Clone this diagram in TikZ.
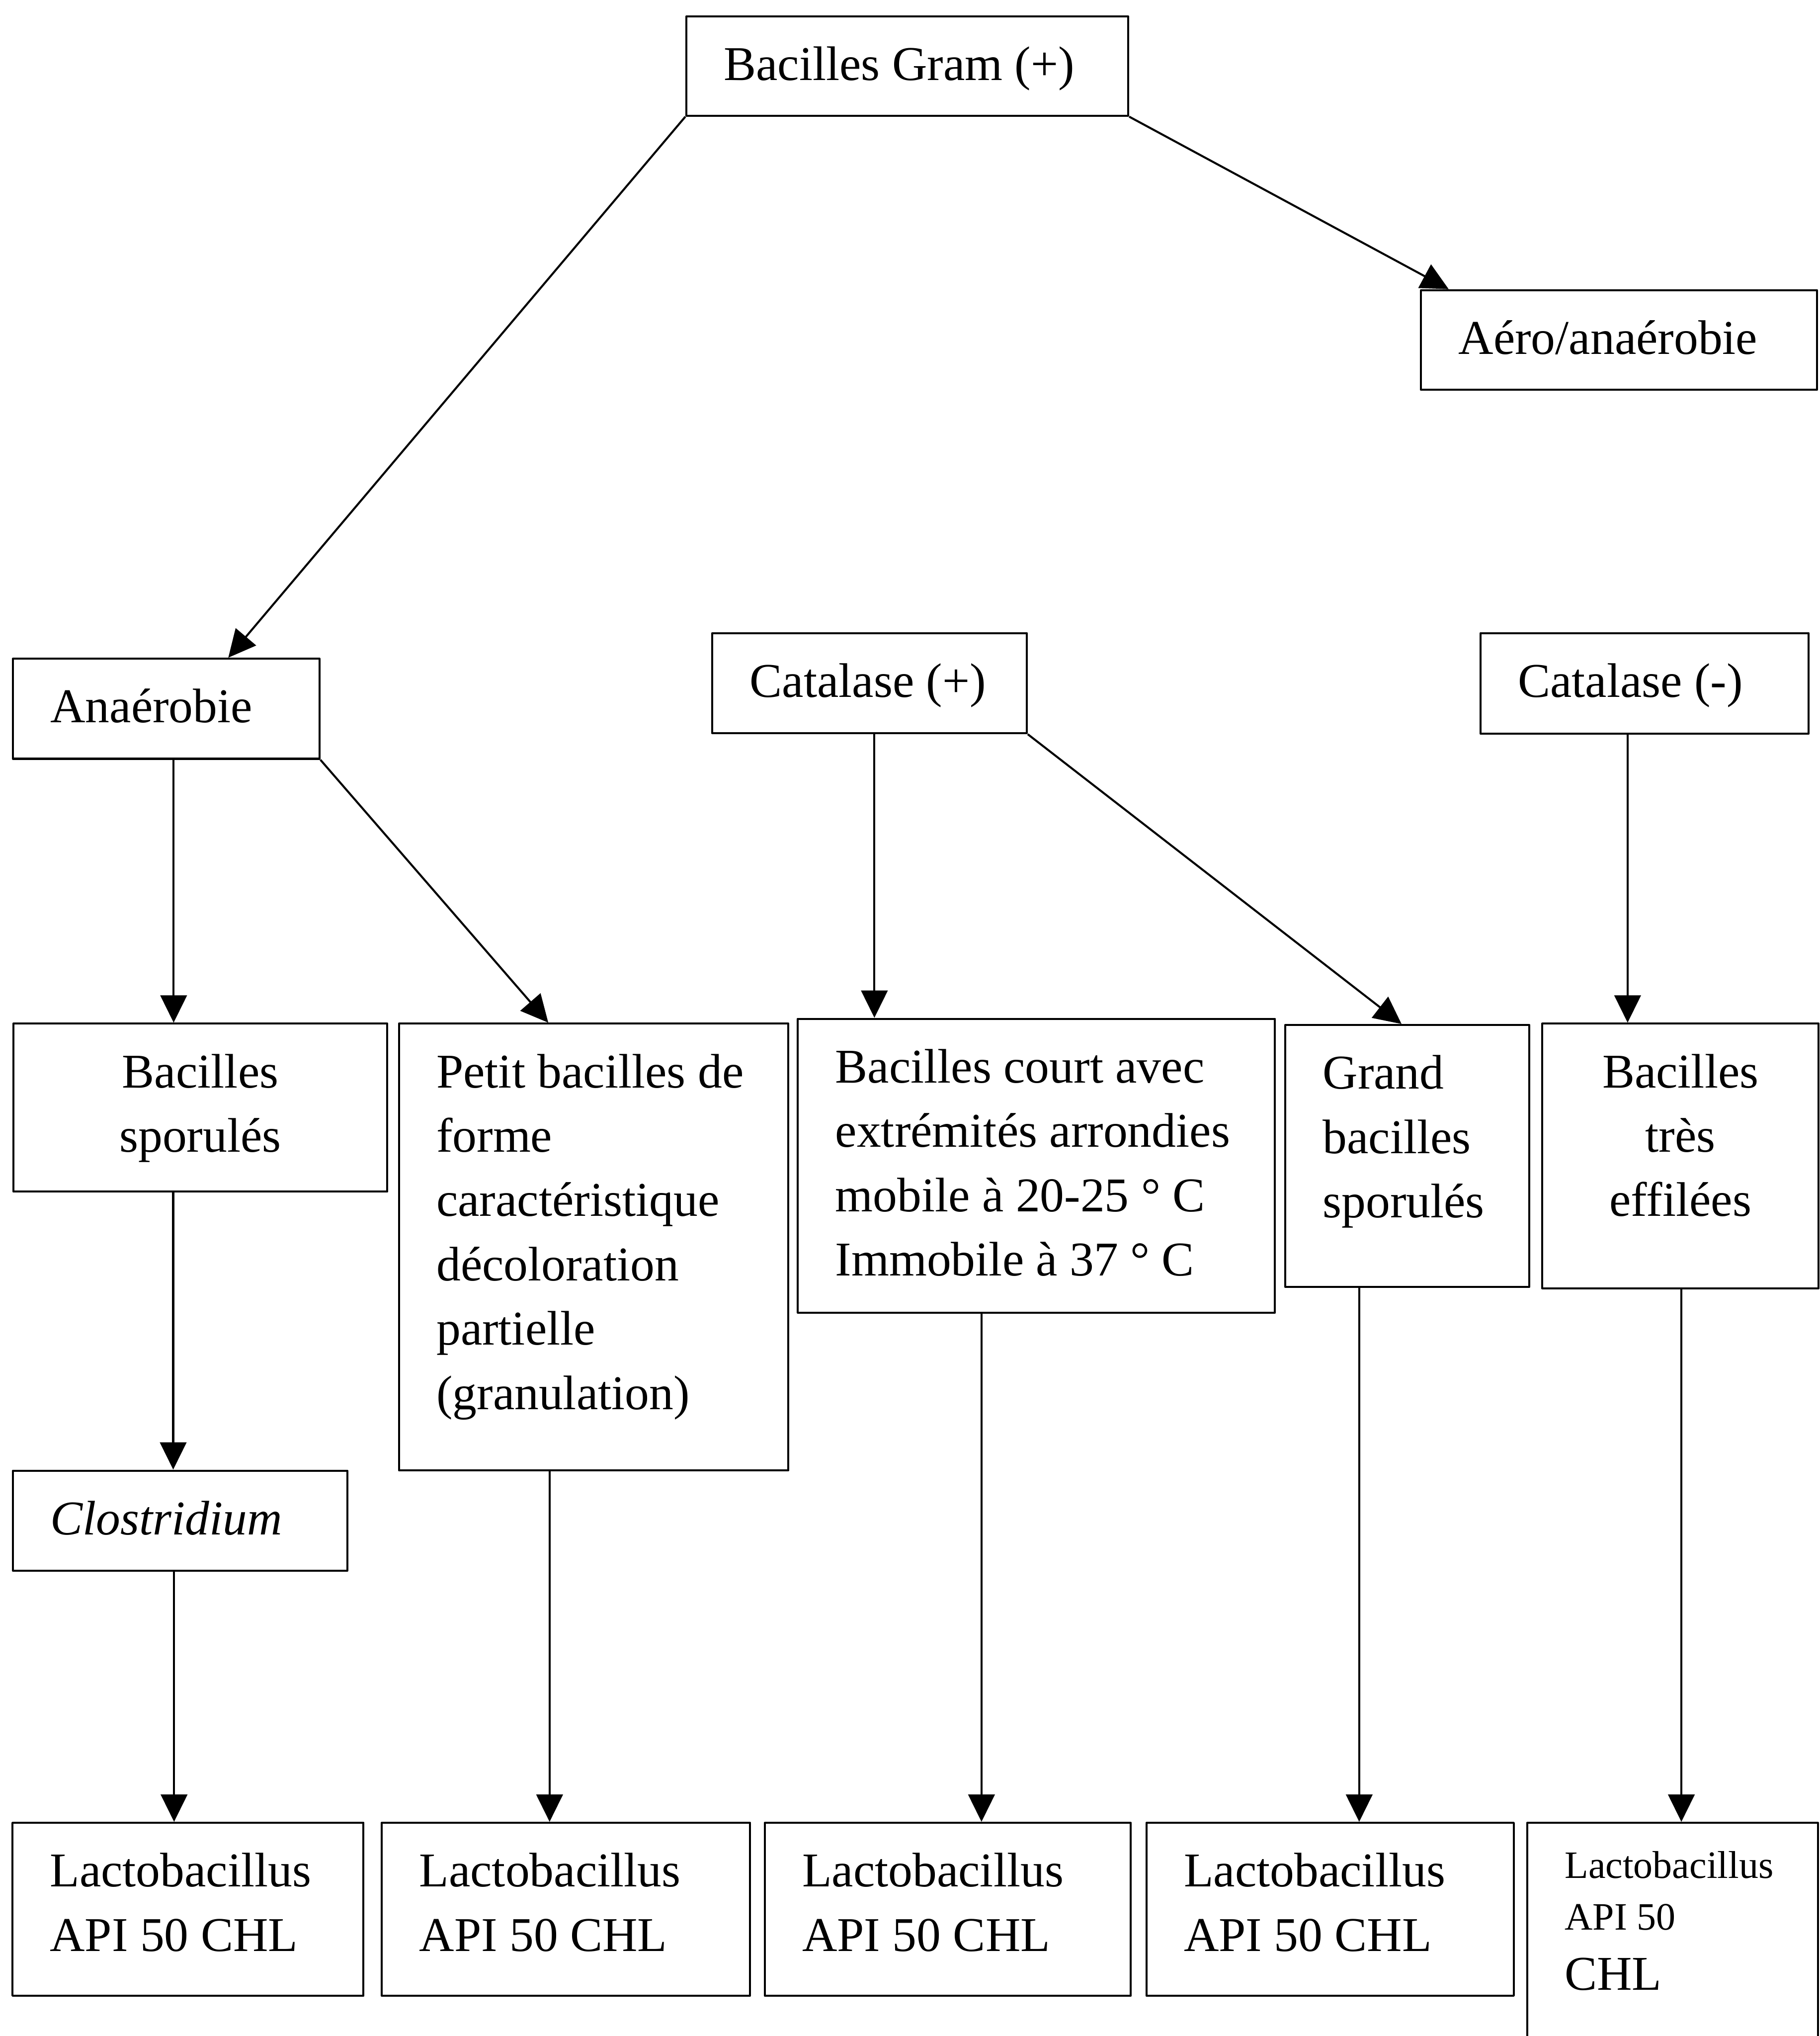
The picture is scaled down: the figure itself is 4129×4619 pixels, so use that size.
\documentclass[tikz,border=0pt]{standalone}
\usepackage{fontspec}
\setmainfont{Liberation Serif}
\usetikzlibrary{arrows.meta}
\begin{document}
\begin{tikzpicture}[x=0.01cm, y=-0.01cm, >={Triangle[length=0.62cm,width=0.6cm]}, line width=1.3pt, line join=round,
	font=\fontsize{31.3}{41.5}\selectfont,
	boite/.style={draw, anchor=north west, inner xsep=0.85cm, inner ysep=0pt, text height=1.45cm, align=flush left}]
	\useasboundingbox (0,0) rectangle (4129,4619);
	\clip (0,0) rectangle (4129,4619);
	% Haut
	\node[boite, text width=8.32cm, text depth=0.80cm] (gram) at (1555,35) {Bacilles Gram (+)};
	\node[boite, text width=7.28cm, text depth=0.81cm] (aero) at (3222,656) {Aéro/anaérobie};
	\node[boite, text width=5.25cm, text depth=0.82cm] (anaer) at (27,1492) {Anaérobie};
	\node[boite, text width=5.43cm, text depth=0.82cm] (catp) at (1614,1434) {Catalase (+)};
	\node[boite, text width=5.74cm, text depth=0.83cm] (catm) at (3357,1434) {Catalase (-)};
	% Formes
	\node[boite, text width=6.78cm, text depth=2.36cm, align=flush center] (spor) at (28,2320) {Bacilles\\sporulés};
	\node[boite, text width=7.13cm, text depth=8.68cm] (petit) at (903,2320) {Petit bacilles de\\forme\\caractéristique\\décoloration\\partielle\\(granulation)};
	\node[boite, text width=9.12cm, text depth=5.21cm] (court) at (1808,2309) {Bacilles court avec\\extrémités arrondies\\mobile à 20-25 ° C\\Immobile à 37 ° C};
	\node[boite, text width=3.83cm, text depth=4.49cm] (grand) at (2914,2323) {Grand\\bacilles\\sporulés};
	\node[boite, text width=4.57cm, text depth=4.55cm, align=flush center] (effil) at (3497,2320) {Bacilles\\très\\effilées};
	\node[boite, text width=5.88cm, text depth=0.82cm] (clos) at (27,3334) {\textit{Clostridium}};
	% Identification
	\node[boite, text width=6.26cm, text depth=2.47cm] (lacto1) at (26,4133) {Lactobacillus\\API 50 CHL};
	\node[boite, text width=6.65cm, text depth=2.47cm] (lacto2) at (864,4133) {Lactobacillus\\API 50 CHL};
	\node[boite, text width=6.60cm, text depth=2.47cm] (lacto3) at (1733,4133) {Lactobacillus\\API 50 CHL};
	\node[boite, text width=6.63cm, text depth=2.47cm] (lacto4) at (2599,4133) {Lactobacillus\\API 50 CHL};
	\node[boite, text width=4.89cm, text height=1.25cm, text depth=4.5cm, font=\fontsize{25}{33.6}\selectfont] (lacto5) at (3463,4133) {Lactobacillus\\API 50\\[5pt]{\fontsize{31.3}{33.6}\selectfont CHL}};
	% Fleches
	\draw[->] (gram.south west) -- (anaer.north -| 518,0);
	\draw[->] (gram.south east) -- (aero.north -| 3287,0);
	\draw[->] (anaer.south -| 394,0) -- (spor.north -| 394,0);
	\draw[->] (anaer.south east) -- (petit.north -| 1244,0);
	\draw[->] (catp.south -| 1984,0) -- (court.north -| 1984,0);
	\draw[->] (catp.south east) -- (grand.north -| 3180,0);
	\draw[->] (catm.south -| 3693,0) -- (effil.north -| 3693,0);
	\draw[->] (spor.south -| 393,0) -- (clos.north -| 393,0);
	\draw[->] (clos.south -| 395,0) -- (lacto1.north -| 395,0);
	\draw[->] (petit.south -| 1247,0) -- (lacto2.north -| 1247,0);
	\draw[->] (court.south -| 2227,0) -- (lacto3.north -| 2227,0);
	\draw[->] (grand.south -| 3084,0) -- (lacto4.north -| 3084,0);
	\draw[->] (effil.south -| 3815,0) -- (lacto5.north -| 3815,0);
\end{tikzpicture}
\end{document}
